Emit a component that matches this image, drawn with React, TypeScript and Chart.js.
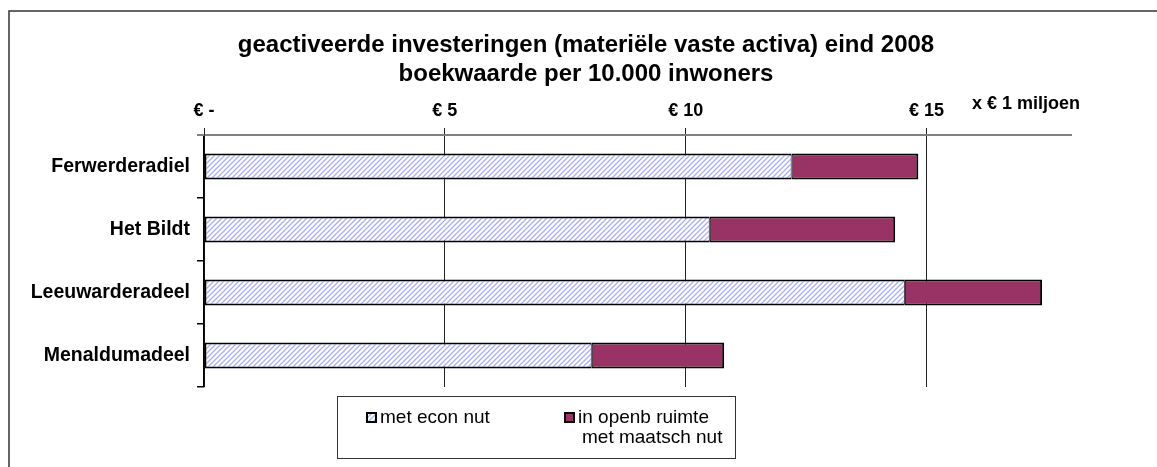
import React, { useEffect, useRef } from "react";
import { Chart, registerables } from "chart.js";

Chart.register(...registerables);

const categories = ["Ferwerderadiel", "Het Bildt", "Leeuwarderadeel", "Menaldumadeel"];
const econNut = [12.2, 10.5, 14.55, 8.05];
const maatschNut = [2.63, 3.85, 2.85, 2.75];
const seriesNames = ["met econ nut", "in openb ruimte\nmet maatsch nut"];
const xTickValues = [0, 5, 10, 15];
const xMax = 18;
const titleLines = [
  "geactiveerde investeringen (materiële vaste activa) eind 2008",
  "boekwaarde per 10.000 inwoners",
];
const unitLabel = "x € 1 miljoen";

const FONT = "'Liberation Sans', Arial, Helvetica, sans-serif";
const W = 1157;
const H = 467;
const MAROON = "#993366";

function makeHatch(): CanvasPattern | string {
  const size = 5;
  const c = document.createElement("canvas");
  c.width = size;
  c.height = size;
  const g = c.getContext("2d");
  if (!g) return "#c8ccf8";
  g.fillStyle = "#ffffff";
  g.fillRect(0, 0, size, size);
  g.strokeStyle = "#a9aef6";
  g.lineWidth = 1.3;
  g.beginPath();
  for (let k = -1; k <= 1; k++) {
    g.moveTo(k * size - 1, size + 1);
    g.lineTo(k * size + size + 1, -1);
  }
  g.stroke();
  const p = g.createPattern(c, "repeat");
  return p || "#c8ccf8";
}

export default function App() {
  const ref = useRef<HTMLCanvasElement | null>(null);

  useEffect(() => {
    const canvas = ref.current;
    if (!canvas) return;
    const hatch = makeHatch();

    const decor = {
      id: "decor",
      afterDraw(chart: any) {
        const ctx = chart.ctx as CanvasRenderingContext2D;
        const area = chart.chartArea;
        ctx.save();
        // outer frame
        ctx.strokeStyle = "#333333";
        ctx.lineWidth = 1.5;
        ctx.strokeRect(9, 11, W + 20, H + 20);

        // axis line extension over the category tick area
        ctx.strokeStyle = "#808080";
        ctx.lineWidth = 2;
        ctx.beginPath();
        ctx.moveTo(area.left - 7, area.top);
        ctx.lineTo(area.left, area.top);
        ctx.stroke();

        // title
        ctx.fillStyle = "#000";
        ctx.textAlign = "center";
        ctx.textBaseline = "middle";
        ctx.font = `bold 24px ${FONT}`;
        titleLines.forEach((t, i) => ctx.fillText(t, 586, 45 + i * 29));

        // unit label
        ctx.textAlign = "left";
        ctx.font = `bold 18px ${FONT}`;
        ctx.fillText(unitLabel, 972, 104);

        // legend
        const lx = 337, ly = 396, lw = 398, lh = 62;
        ctx.fillStyle = "#fff";
        ctx.fillRect(lx, ly, lw, lh);
        ctx.strokeStyle = "#333";
        ctx.lineWidth = 1;
        ctx.strokeRect(lx + 0.5, ly + 0.5, lw, lh);
        const items = chart.data.datasets;
        const itemX = [366, 564];
        ctx.font = `19px ${FONT}`;
        items.forEach((ds: any, i: number) => {
          const sx = itemX[i];
          const sy = 412;
          ctx.fillStyle = ds.backgroundColor;
          ctx.fillRect(sx, sy, 11, 11);
          ctx.strokeStyle = "#000";
          ctx.lineWidth = 2;
          ctx.strokeRect(sx + 1, sy + 1, 9, 9);
          ctx.fillStyle = "#000";
          ctx.textAlign = "left";
          ctx.textBaseline = "middle";
          const lines = String(ds.label).split("\n");
          lines.forEach((ln, j) => ctx.fillText(ln, sx + 14 + (j > 0 ? 4 : 0), 418 + j * 20));
        });
        ctx.restore();
      },
    };

    const chart = new Chart(canvas, {
      type: "bar",
      data: {
        labels: categories,
        datasets: [
          {
            label: seriesNames[0],
            data: econNut,
            backgroundColor: hatch as any,
            borderColor: "#000",
            borderWidth: { top: 2, bottom: 2, left: 2, right: 1 } as any,
            borderSkipped: false,
            barPercentage: 26 / 63,
            categoryPercentage: 1,
          },
          {
            label: seriesNames[1],
            data: maatschNut,
            backgroundColor: MAROON,
            borderColor: "#000",
            borderWidth: { top: 2, bottom: 2, left: 1, right: 2 } as any,
            borderSkipped: false,
            barPercentage: 26 / 63,
            categoryPercentage: 1,
          },
        ],
      },
      options: {
        indexAxis: "y",
        responsive: false,
        animation: false,
        devicePixelRatio: 1,
        layout: { padding: { left: 0, top: 0, right: W - 1071, bottom: H - 387 } },
        plugins: {
          legend: { display: false },
          title: { display: false },
          tooltip: { enabled: false },
        },
        scales: {
          x: {
            type: "linear",
            position: "top",
            stacked: true,
            min: 0,
            max: xMax,
            afterBuildTicks: (scale: any) => {
              scale.ticks = xTickValues.map((v) => ({ value: v }));
            },
            afterFit: (scale: any) => {
              scale.height = 135;
            },
            ticks: {
              autoSkip: false,
              maxRotation: 0,
              padding: 6,
              color: "#000",
              font: { family: FONT, size: 18, weight: "bold" },
              callback: (v: any) => (Number(v) === 0 ? "€ -" : "€ " + v),
            },
            grid: { color: "#222", lineWidth: 1, tickLength: 7, drawTicks: true },
            border: { color: "#808080", width: 2 },
          },
          y: {
            type: "category",
            stacked: true,
            offset: true,
            afterFit: (scale: any) => {
              scale.width = 204;
            },
            ticks: {
              padding: 7,
              color: "#000",
              font: { family: FONT, size: 19.5, weight: "bold" },
            },
            grid: {
              offset: true,
              drawOnChartArea: false,
              drawTicks: true,
              tickLength: 7,
              color: "#000",
              lineWidth: 1.5,
            },
            border: { color: "#000", width: 1.5 },
          },
        },
      },
      plugins: [decor],
    });

    return () => chart.destroy();
  }, []);

  return (
    <div style={{ position: "absolute", left: 0, top: 0, width: W, height: H, background: "#fff" }}>
      <canvas ref={ref} width={W} height={H} style={{ display: "block", width: W, height: H }} />
    </div>
  );
}
